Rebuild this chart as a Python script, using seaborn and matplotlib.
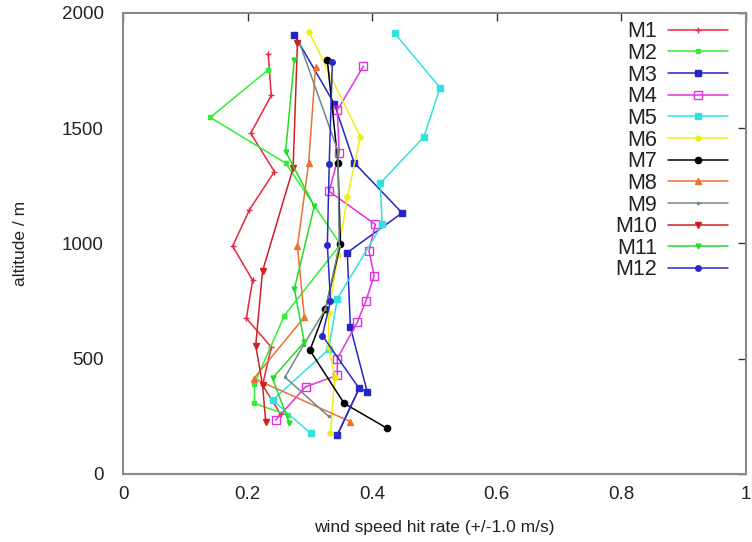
import matplotlib
matplotlib.use("Agg")
import matplotlib.pyplot as plt
import seaborn as sns
import pandas as pd

# hit rate per model, listed from the highest altitude down
M1_x = [0.233, 0.238, 0.205, 0.243, 0.203, 0.176, 0.208, 0.198, 0.238, 0.224, 0.253]
M1_y = [1822, 1642, 1477, 1311, 1146, 988, 840, 675, 550, 385, 259]
M2_x = [0.232, 0.140, 0.261, 0.349, 0.259, 0.211, 0.211, 0.265]
M2_y = [1750, 1546, 1348, 996, 687, 392, 306, 255]
M3_x = [0.275, 0.339, 0.371, 0.448, 0.360, 0.365, 0.392, 0.379, 0.344]
M3_y = [1904, 1606, 1350, 1132, 960, 636, 356, 371, 169]
M4_x = [0.386, 0.344, 0.347, 0.331, 0.405, 0.395, 0.403, 0.390, 0.376, 0.344, 0.344, 0.293, 0.245]
M4_y = [1769, 1577, 1391, 1225, 1082, 967, 859, 751, 658, 500, 428, 378, 234]
M5_x = [0.436, 0.509, 0.483, 0.413, 0.416, 0.344, 0.330, 0.240, 0.301]
M5_y = [1911, 1675, 1462, 1261, 1082, 760, 540, 320, 177]
M6_x = [0.299, 0.381, 0.360, 0.345, 0.330, 0.330, 0.340, 0.333]
M6_y = [1915, 1462, 1200, 950, 700, 550, 420, 177]
M7_x = [0.328, 0.345, 0.349, 0.325, 0.300, 0.355, 0.424]
M7_y = [1793, 1350, 996, 715, 536, 306, 198]
M8_x = [0.309, 0.298, 0.280, 0.291, 0.210, 0.365]
M8_y = [1764, 1348, 988, 680, 414, 227]
M9_x = [0.283, 0.345, 0.347, 0.325, 0.290, 0.260, 0.330]
M9_y = [1872, 1400, 988, 715, 560, 420, 250]
M10_x = [0.280, 0.273, 0.224, 0.213, 0.224, 0.229]
M10_y = [1870, 1326, 880, 557, 385, 227]
M11_x = [0.275, 0.261, 0.307, 0.275, 0.291, 0.240, 0.267]
M11_y = [1796, 1398, 1161, 802, 572, 415, 220]
M12_x = [0.336, 0.331, 0.328, 0.333, 0.320, 0.379, 0.344]
M12_y = [1786, 1346, 993, 751, 600, 371, 169]

models = ["M1", "M2", "M3", "M4", "M5", "M6", "M7", "M8", "M9", "M10", "M11", "M12"]
xs = [M1_x, M2_x, M3_x, M4_x, M5_x, M6_x, M7_x, M8_x, M9_x, M10_x, M11_x, M12_x]
ys = [M1_y, M2_y, M3_y, M4_y, M5_y, M6_y, M7_y, M8_y, M9_y, M10_y, M11_y, M12_y]

colors = ["#e8283c", "#33ee33", "#2323c8", "#e033e0", "#33e0e0", "#eeee11",
          "#000000", "#ee7033", "#708888", "#d02020", "#22dd22", "#2a2ac8"]
markers = ["+", "s", "s", "s", "s", "o", "o", "^", ".", "v", "v", "o"]
mfaces = [None, None, None, "none", None, None, None, None, None, None, None, None]
msizes = [5, 3.5, 4.5, 5.5, 4.5, 3.5, 4.5, 4.5, 3, 4.5, 3.5, 4]

sns.set_theme(style="white")
plt.rcParams["font.family"] = ["Liberation Sans", "DejaVu Sans"]

fig = plt.figure(figsize=(7.52, 5.42), dpi=100)
ax = fig.add_axes([0.1636, 0.1255, 0.8284, 0.851])

for name, x, y, c, m, mf, ms in zip(models, xs, ys, colors, markers, mfaces, msizes):
    df = pd.DataFrame({"rate": x, "alt": y})
    kw = dict(marker=m, markersize=ms, markeredgecolor=c, markeredgewidth=1.0)
    if mf is not None:
        kw["markerfacecolor"] = mf
    sns.lineplot(data=df, x="rate", y="alt", sort=False, estimator=None,
                 color=c, linewidth=1.1, label=name, ax=ax, **kw)

ax.set_xlim(0, 1)
ax.set_ylim(0, 2000)
ax.set_xticks([0, 0.2, 0.4, 0.6, 0.8, 1])
ax.set_xticklabels(["0", "0.2", "0.4", "0.6", "0.8", "1"])
ax.set_yticks([0, 500, 1000, 1500, 2000])
ax.tick_params(axis="x", pad=9)
ax.tick_params(axis="y", pad=14)
ax.tick_params(direction="in", length=6, width=1, color="#333333",
               top=True, right=True, labelsize=13.5, labelcolor="#222222")
for s in ax.spines.values():
    s.set_color("#888888")
    s.set_linewidth(1.5)
ax.set_xlabel("wind speed hit rate (+/-1.0 m/s)", fontsize=12.5, color="#222222", labelpad=12)
ax.set_ylabel("altitude / m", fontsize=12.5, color="#222222", labelpad=24)

leg = ax.legend(loc="upper right", frameon=False, markerfirst=False, fontsize=15.5,
                handlelength=2.8, labelspacing=0.03, handletextpad=0.5,
                borderaxespad=0.0, bbox_to_anchor=(0.985, 1.0))
for t in leg.get_texts():
    t.set_ha("right")
    t.set_color("#222222")

fig.savefig("out.png", dpi=100)
